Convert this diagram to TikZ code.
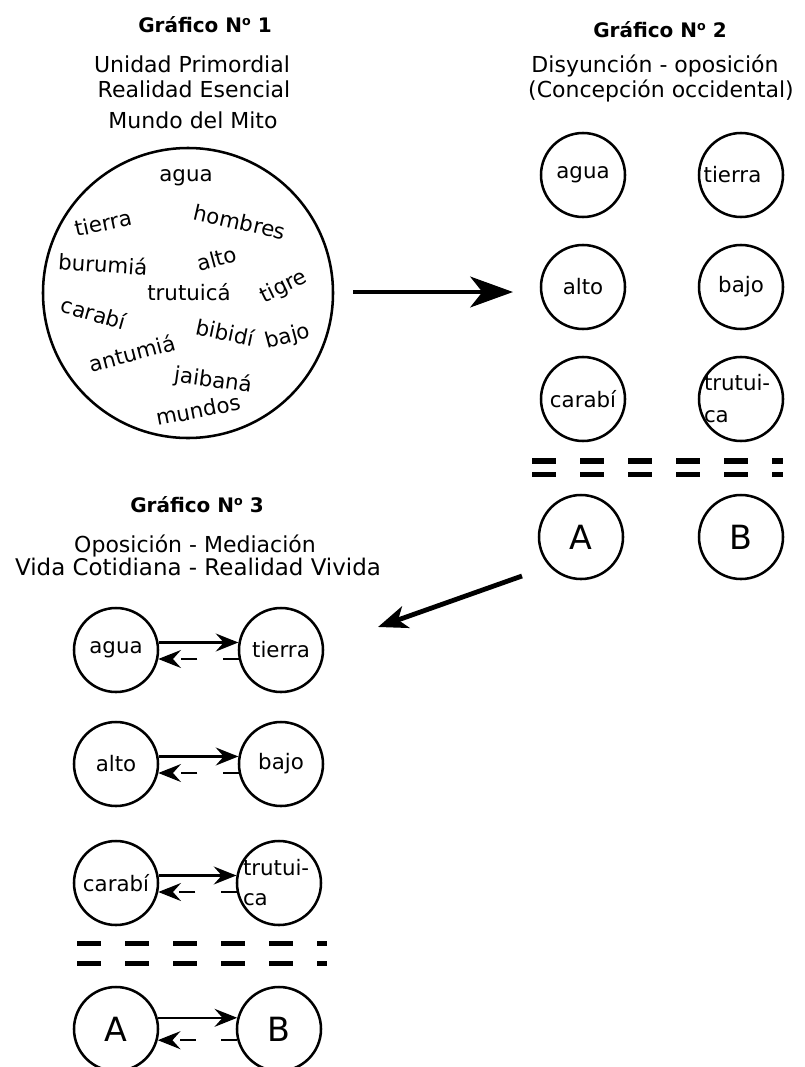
\documentclass[tikz,border=0pt]{standalone}
\usepackage{fontspec}
\setmainfont{DejaVu Sans}
\usetikzlibrary{arrows.meta}
\newcommand\numero{N\raisebox{0.62ex}{\fontsize{9.5}{9.5}\selectfont o}}
\begin{document}
\begin{tikzpicture}[x=0.75pt,y=-0.75pt,
  txt/.style={inner sep=0pt, anchor=base, font=\fontsize{16.5}{20}\selectfont},
  ttl/.style={inner sep=0pt, anchor=base, font=\bfseries\fontsize{15}{18}\selectfont},
  word/.style={inner sep=0pt, font=\fontsize{16}{19}\selectfont},
  circ/.style={circle, draw, line width=1.9pt, minimum size=63pt, inner sep=0pt, font=\fontsize{16}{19}\selectfont},
  bigcirc/.style={circle, draw, line width=1.9pt, minimum size=217.5pt, inner sep=0pt},
  letter/.style={font=\fontsize{25}{30}\selectfont},
  bigarrow/.style={line width=3.6pt, -{Stealth[length=32pt,width=23pt,inset=9pt]}},
  midarrow/.style={line width=3.6pt, -{Stealth[length=22pt,width=17pt,inset=6pt]}},
  fwd/.style={line width=1.6pt, -{Stealth[length=17pt,width=13.5pt,inset=6pt]}},
  bwd/.style={fwd, dash pattern=on 12pt off 19pt},
  sepline/.style={line width=4pt, dash pattern=on 18pt off 18pt}]
\useasboundingbox (0,0) rectangle (804,1067);

% ---------- Grafico 1 ----------
\node[ttl] (t1) at (205,32) {Gráfico \numero\ 1};
\node[txt] (s1a) at (192,72) {Unidad Primordial};
\node[txt] (s1b) at (194,97) {Realidad Esencial};
\node[txt] (s1c) at (193,128) {Mundo del Mito};
\node[bigcirc] (mito) at (188,293) {};
\node[word] (w1) at (186,178) {agua};
\node[word,rotate=12] (w2) at (103,223) {tierra};
\node[word,rotate=-13] (w3) at (240,222) {hombres};
\node[word,rotate=-4] (w4) at (103,264) {burumiá};
\node[word,rotate=15] (w5) at (217,259) {alto};
\node[word] (w6) at (189,292) {trutuicá};
\node[word,rotate=26] (w7) at (284,287) {tigre};
\node[word,rotate=-16] (w8) at (94,313) {carabí};
\node[word,rotate=-12] (w9) at (225,332) {bibidí};
\node[word,rotate=15] (w10) at (288,337) {bajo};
\node[word,rotate=15] (w11) at (132,353) {antumiá};
\node[word,rotate=-8] (w12) at (213,381) {jaibaná};
\node[word,rotate=11] (w13) at (198,410) {mundos};

% ---------- Grafico 2 ----------
\node[ttl] (t2) at (660,37) {Gráfico \numero\ 2};
\node[txt] (s2a) at (655,72) {Disyunción - oposición};
\node[txt] (s2b) at (661,97) {(Concepción occidental)};
\node[circ] (agua2) at (583,175) {agua};
\node[circ] (tierra2) at (741,175) {\makebox[0pt][l]{\hspace{-28pt}tierra}};
\node[circ] (alto2) at (583,287) {alto};
\node[circ] (bajo2) at (741,287) {bajo};
\node[circ] (carabi2) at (583,399) {carabí};
\node[circ] (trutuica2) at (741,399) {\makebox[0pt][l]{\hspace{-27.75pt}\vbox{\baselineskip=24pt\hbox{trutui-}\hbox{ca}}}};
\draw[sepline] (532,461) -- (783,461);
\draw[sepline] (532,474.5) -- (783,474.5);
\node[circ,letter] (A2) at (581,537) {A};
\node[circ,letter] (B2) at (741,537) {B};

% ---------- arrows between graphics ----------
\coordinate (arr1s) at (353,292);
\coordinate (arr1e) at (513,292);
\draw[bigarrow] (arr1s) -- (arr1e);
\coordinate (arr2s) at (522,576);
\coordinate (arr2e) at (378,627);
\draw[midarrow] (arr2s) -- (arr2e);

% ---------- Grafico 3 ----------
\node[ttl] (t3) at (197,512) {Gráfico \numero\ 3};
\node[txt] (s3a) at (195,552) {Oposición - Mediación};
\node[txt,font=\fontsize{17.2}{21}\selectfont] (s3b) at (198,575) {Vida Cotidiana - Realidad Vivida};
\node[circ] (agua3) at (116,650) {agua};
\node[circ] (tierra3) at (281,650) {tierra};
\node[circ] (alto3) at (116,764) {alto};
\node[circ] (bajo3) at (281,764) {bajo};
\node[circ] (carabi3) at (116,883) {carabí};
\node[circ] (trutuica3) at (279,883) {\makebox[0pt][l]{\hspace{-27pt}\vbox{\baselineskip=22.5pt\hbox{trutui-}\hbox{ca}}}};
\draw[sepline] (77,943.5) -- (327,943.5);
\draw[sepline] (77,963.5) -- (327,963.5);
\node[circ,letter] (A3) at (116,1029) {A};
\node[circ,letter] (B3) at (279,1029) {B};

\draw[fwd] (agua3.10) -- (tierra3.170);
\draw[bwd] (tierra3.-168) -- (agua3.-12);
\draw[fwd] (alto3.10) -- (bajo3.170);
\draw[bwd] (bajo3.-168) -- (alto3.-12);
\draw[fwd] (carabi3.10) -- (trutuica3.170);
\draw[bwd] (trutuica3.-168) -- (carabi3.-12);
\draw[fwd] (A3.15) -- (B3.165);
\draw[bwd] (B3.-165) -- (A3.-15);
\end{tikzpicture}
\end{document}
